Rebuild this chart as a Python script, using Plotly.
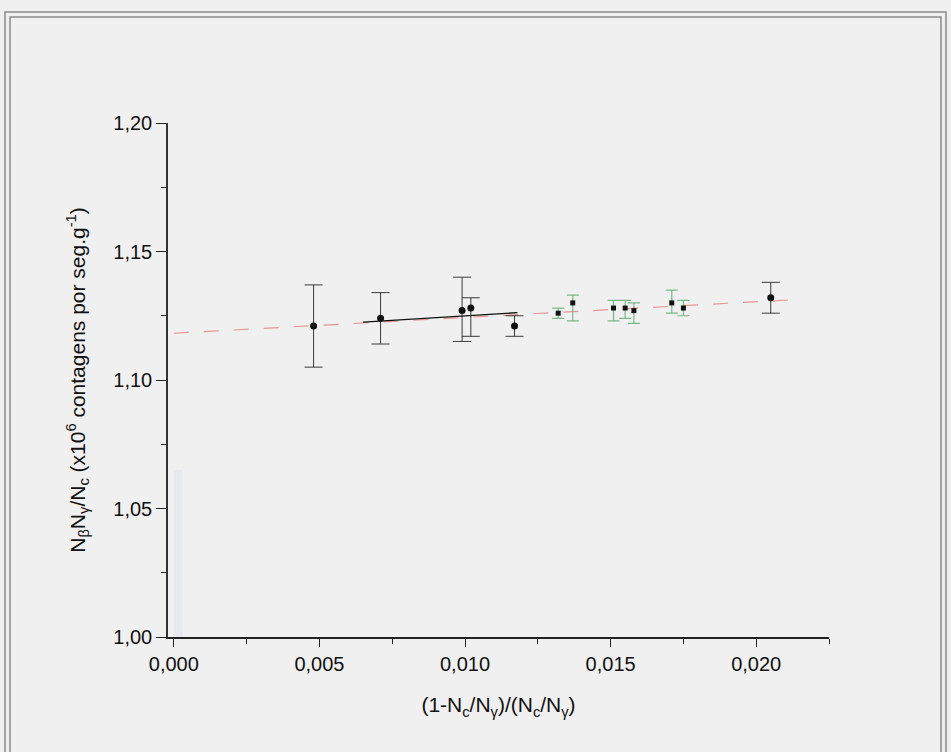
import plotly.graph_objects as go

# Measurements drawn with dark error bars
x_black = [0.0048, 0.0071, 0.0099, 0.0102, 0.0117, 0.0205]
y_black = [1.121, 1.124, 1.127, 1.128, 1.121, 1.132]
err_black_up = [0.016, 0.010, 0.013, 0.004, 0.004, 0.006]
err_black_down = [0.016, 0.010, 0.012, 0.011, 0.004, 0.006]

# Measurements drawn with green error bars
x_green = [0.0132, 0.0137, 0.0151, 0.0155, 0.0158, 0.0171, 0.0175]
y_green = [1.126, 1.130, 1.128, 1.128, 1.127, 1.130, 1.128]
err_green_up = [0.002, 0.003, 0.003, 0.003, 0.003, 0.005, 0.003]
err_green_down = [0.002, 0.007, 0.005, 0.004, 0.005, 0.004, 0.003]

# Linear fits
fit_black_x = [0.0065, 0.0118]
fit_black_y = [1.1225, 1.1262]
fit_all_x = [0.0, 0.0212]
fit_all_y = [1.1182, 1.1312]

y_ticks = [1.00, 1.05, 1.10, 1.15, 1.20]
y_tick_text = ["1,00", "1,05", "1,10", "1,15", "1,20"]
x_ticks = [0.000, 0.005, 0.010, 0.015, 0.020]
x_tick_text = ["0,000", "0,005", "0,010", "0,015", "0,020"]

W, H = 951, 752
ML, MR, MT, MB = 168, 122, 123, 115

fig = go.Figure()

fig.add_trace(go.Scatter(
    x=fit_all_x, y=fit_all_y, mode="lines",
    line=dict(color="rgba(225,120,120,0.75)", width=1.2, dash="longdash"),
    showlegend=False, hoverinfo="skip"))

fig.add_trace(go.Scatter(
    x=x_green, y=y_green, mode="markers",
    marker=dict(color="#111", size=5, symbol="square"),
    error_y=dict(type="data", symmetric=False, array=err_green_up,
                 arrayminus=err_green_down, color="rgba(80,165,100,0.75)",
                 thickness=1.2, width=6),
    showlegend=False))

fig.add_trace(go.Scatter(
    x=x_black, y=y_black, mode="markers",
    marker=dict(color="#111", size=7),
    error_y=dict(type="data", symmetric=False, array=err_black_up,
                 arrayminus=err_black_down, color="#3a3a3a",
                 thickness=1, width=9),
    showlegend=False))

fig.add_trace(go.Scatter(
    x=fit_black_x, y=fit_black_y, mode="lines",
    line=dict(color="#111", width=1.4),
    showlegend=False, hoverinfo="skip"))


def px_x(p):
    return (p - ML) / (W - ML - MR)


def px_y(p):
    return 1 - (p - MT) / (H - MT - MB)


# double frame around the whole figure
shapes = []
for (x0, y0, x1, y1) in [(5, 12, 946, 800), (10, 17, 941, 800)]:
    shapes.append(dict(type="rect", xref="paper", yref="paper",
                       x0=px_x(x0), x1=px_x(x1), y0=px_y(y1), y1=px_y(y0),
                       line=dict(color="#8a8a8a", width=1.5),
                       fillcolor="rgba(0,0,0,0)", layer="below"))
# faint haze along the lower part of the vertical axis
shapes.append(dict(type="rect", xref="x", yref="y", x0=0.0, x1=0.0003,
                   y0=1.0, y1=1.065, line=dict(width=0),
                   fillcolor="rgba(215,215,240,0.3)", layer="below"))

fig.update_layout(
    width=W, height=H,
    margin=dict(l=ML, r=MR, t=MT, b=MB),
    paper_bgcolor="#f0f0f0", plot_bgcolor="#f0f0f0",
    font=dict(family="Liberation Sans, Arial, sans-serif", size=20, color="#111"),
    shapes=shapes,
    xaxis=dict(
        range=[-0.0002, 0.0225], tickvals=x_ticks, ticktext=x_tick_text,
        showgrid=False, zeroline=False, showline=True, linecolor="#222",
        linewidth=1.5, ticks="outside", ticklen=8, tickcolor="#222",
        tickfont=dict(size=20),
        minor=dict(ticks="outside", ticklen=5, dtick=0.0025, tick0=0, tickcolor="#222"),
        title=dict(text="(1-N<sub>c</sub>/N<sub>γ</sub>)/(N<sub>c</sub>/N<sub>γ</sub>)",
                   standoff=24, font=dict(size=21)),
    ),
    yaxis=dict(
        range=[1.0, 1.2], tickvals=y_ticks, ticktext=y_tick_text,
        showgrid=False, zeroline=False, showline=True, linecolor="#333",
        linewidth=1.5, ticks="outside", ticklen=10, tickcolor="#222",
        tickfont=dict(size=20),
        minor=dict(ticks="outside", ticklen=5, dtick=0.025, tick0=1.0, tickcolor="#222"),
        title=dict(text="N<sub>β</sub>N<sub>γ</sub>/N<sub>c</sub> (x10<sup>6</sup> contagens por seg.g<sup>-1</sup>)",
                   standoff=22, font=dict(size=21)),
    ),
)

fig.write_html("out.html")
